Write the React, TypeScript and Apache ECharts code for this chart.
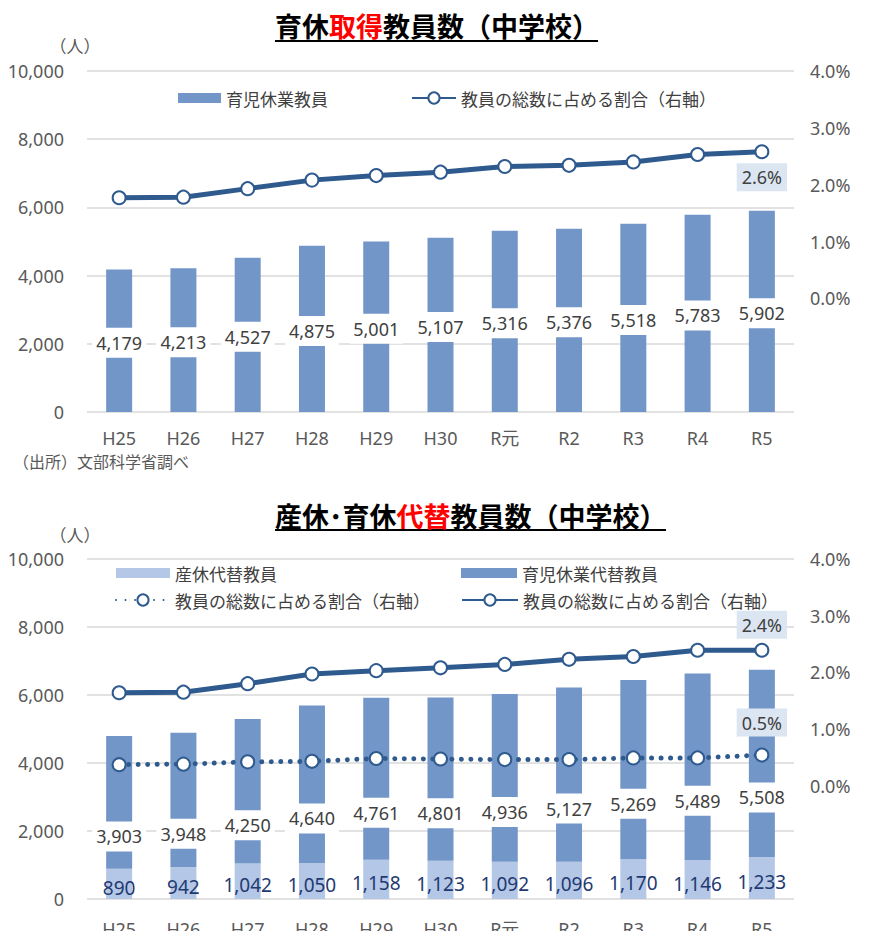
import React, { useEffect, useRef } from 'react';
import * as echarts from 'echarts';

// 年度
const years = ['H25', 'H26', 'H27', 'H28', 'H29', 'H30', 'R元', 'R2', 'R3', 'R4', 'R5'];

// 育休取得教員数（中学校）
const childcareLeave = [4179, 4213, 4527, 4875, 5001, 5107, 5316, 5376, 5518, 5783, 5902];
const childcareLeaveRate = [1.77, 1.78, 1.93, 2.08, 2.16, 2.22, 2.32, 2.34, 2.4, 2.53, 2.58];

// 産休・育休代替教員数（中学校）
const maternitySubs = [890, 942, 1042, 1050, 1158, 1123, 1092, 1096, 1170, 1146, 1233];
const childcareSubs = [3903, 3948, 4250, 4640, 4761, 4801, 4936, 5127, 5269, 5489, 5508];
const maternitySubsRate = [0.37, 0.38, 0.42, 0.43, 0.48, 0.47, 0.46, 0.46, 0.49, 0.49, 0.54];
const childcareSubsRate = [1.64, 1.65, 1.8, 1.97, 2.03, 2.08, 2.14, 2.23, 2.28, 2.39, 2.39];

// 軸目盛
const countAxis = { min: 0, max: 10000, interval: 2000 };
const rateAxis = { min: -2, max: 4, interval: 1 };

const BAR = '#7396C8';
const LIGHT = '#B4C7E7';
const LINE = '#2F5A8E';
const GRID = '#D9D9D9';
const AXIS_TEXT = '#595959';
const LABEL_TEXT = '#404040';
const NAVY = '#1F3A70';
const PCT_BG = '#DCE6F2';

const NUM_FONT = '"Noto Sans", "Noto Sans CJK JP", sans-serif';
const JP_FONT = '"Noto Sans CJK JP", "Noto Sans", sans-serif';

const RATE_LABEL_ALL = '教員の総数に占める割合（右軸）';

const fmtCount = (v: number) => Number(v).toLocaleString('en-US');
const fmtRate = (v: number) => Number(v).toFixed(1) + '%';

// 最終年度だけ割合を表示する
function rateData(values: number[], position: 'top' | 'bottom', distance: number) {
  const last = values.length - 1;
  return values.map((v, i) =>
    i === last
      ? {
          value: v,
          label: {
            show: true,
            position,
            distance,
            formatter: (p: any) => fmtRate(p.value),
            backgroundColor: PCT_BG,
            padding: [4, 5],
            color: LABEL_TEXT,
            fontSize: 18,
            lineHeight: 20,
            fontFamily: NUM_FONT,
          },
        }
      : v
  );
}

function countAxes(gridIndex: number) {
  return [
    {
      type: 'value',
      gridIndex,
      ...countAxis,
      axisLine: { show: false },
      axisTick: { show: false },
      splitLine: { lineStyle: { color: GRID, width: 1.5 } },
      axisLabel: {
        color: AXIS_TEXT,
        fontSize: 18,
        fontFamily: NUM_FONT,
        margin: 23,
        formatter: (v: number) => fmtCount(v),
      },
    },
    {
      type: 'value',
      gridIndex,
      position: 'right',
      ...rateAxis,
      axisLine: { show: false },
      axisTick: { show: false },
      splitLine: { show: false },
      axisLabel: {
        color: AXIS_TEXT,
        fontSize: 18,
        fontFamily: NUM_FONT,
        margin: 16,
        formatter: (v: number) => (v < 0 ? '' : fmtRate(v)),
      },
    },
  ];
}

function categoryAxis(gridIndex: number, margin: number) {
  return {
    type: 'category',
    gridIndex,
    data: years,
    axisLine: { show: false },
    axisTick: { show: false },
    axisLabel: { color: AXIS_TEXT, fontSize: 18, fontFamily: NUM_FONT, margin },
  };
}

const lineBase = {
  type: 'line',
  symbol: 'circle',
  symbolSize: 13,
  itemStyle: { color: '#fff', borderColor: LINE, borderWidth: 2 },
  z: 4,
};

const whiteBoxLabel = {
  show: true,
  position: 'inside',
  color: LABEL_TEXT,
  fontSize: 18,
  lineHeight: 20,
  fontFamily: NUM_FONT,
  backgroundColor: '#fff',
  padding: [5, 4],
  formatter: (p: any) => fmtCount(p.value),
};

function legendItem(name: string, left: number, top: number, w: number, h: number, icon?: string) {
  return {
    data: [name],
    left,
    top,
    padding: 0,
    itemWidth: w,
    itemHeight: h,
    icon,
    selectedMode: false,
    formatter: (n: string) => (n === '産休代替割合' || n === '育休代替割合' ? RATE_LABEL_ALL : n),
    textStyle: { color: LABEL_TEXT, fontSize: 17, lineHeight: 20, fontFamily: JP_FONT },
  };
}

function buildOption() {
  const titleRich = {
    a: { fontSize: 27, fontWeight: 'bold', color: '#000', fontFamily: JP_FONT, lineHeight: 30 },
    r: { fontSize: 27, fontWeight: 'bold', color: '#FF0000', fontFamily: JP_FONT, lineHeight: 30 },
  };
  const smallText = (text: string, x: number, y: number, size: number, align: string) => ({
    type: 'text',
    x,
    y,
    style: {
      text,
      fill: AXIS_TEXT,
      font: `${size}px ${JP_FONT}`,
      align,
      verticalAlign: 'middle',
    },
  });

  return {
    animation: false,
    backgroundColor: '#fff',
    title: [
      { text: '{a|育休}{r|取得}{a|教員数（中学校）}', left: 275, top: 10, padding: 0, textStyle: { rich: titleRich } },
      { text: '{a|産休･育休}{r|代替}{a|教員数（中学校）}', left: 275, top: 500, padding: 0, textStyle: { rich: titleRich } },
    ],
    graphic: [
      { type: 'line', shape: { x1: 275, y1: 41, x2: 598, y2: 41 }, style: { stroke: '#000', lineWidth: 2 } },
      { type: 'line', shape: { x1: 275, y1: 530, x2: 666, y2: 530 }, style: { stroke: '#000', lineWidth: 2 } },
      smallText('（人）', 75, 45, 17, 'center'),
      smallText('（人）', 75, 534, 17, 'center'),
      smallText('（出所）文部科学省調べ', 13, 461, 16, 'left'),
    ],
    legend: [
      legendItem('育児休業教員', 178, 88, 43, 10, 'rect'),
      legendItem(RATE_LABEL_ALL, 411, 88, 44, 14),
      legendItem('産休代替教員', 116, 563, 54, 10, 'rect'),
      legendItem('育児休業代替教員', 461, 563, 56, 10, 'rect'),
      legendItem('産休代替割合', 115, 590, 54, 14),
      legendItem('育休代替割合', 461, 590, 56, 14),
    ],
    grid: [
      { left: 87, top: 71, width: 707, height: 341, outerBoundsMode: 'none', containLabel: false },
      { left: 87, top: 559, width: 707, height: 340, outerBoundsMode: 'none', containLabel: false },
    ],
    xAxis: [categoryAxis(0, 17), categoryAxis(1, 21)],
    yAxis: [...countAxes(0), ...countAxes(1)],
    series: [
      {
        type: 'bar',
        name: '育児休業教員',
        xAxisIndex: 0,
        yAxisIndex: 0,
        data: childcareLeave,
        barWidth: 26,
        itemStyle: { color: BAR },
        label: { ...whiteBoxLabel, offset: [0, 2] },
        z: 2,
      },
      {
        ...lineBase,
        name: RATE_LABEL_ALL,
        xAxisIndex: 0,
        yAxisIndex: 1,
        data: rateData(childcareLeaveRate, 'bottom', 4),
        lineStyle: { color: LINE, width: 5 },
      },
      {
        type: 'bar',
        name: '産休代替教員',
        xAxisIndex: 1,
        yAxisIndex: 2,
        stack: 'subs',
        data: maternitySubs,
        barWidth: 26,
        itemStyle: { color: LIGHT },
        label: {
          show: true,
          position: 'inside',
          color: NAVY,
          fontSize: 19,
          fontFamily: NUM_FONT,
          offset: [0, 4],
          formatter: (p: any) => fmtCount(p.value),
        },
        z: 2,
      },
      {
        type: 'bar',
        name: '育児休業代替教員',
        xAxisIndex: 1,
        yAxisIndex: 2,
        stack: 'subs',
        data: childcareSubs,
        barWidth: 26,
        itemStyle: { color: BAR },
        label: { ...whiteBoxLabel, offset: [0, 34] },
        z: 2,
      },
      {
        ...lineBase,
        name: '産休代替割合',
        xAxisIndex: 1,
        yAxisIndex: 3,
        data: rateData(maternitySubsRate, 'top', 11),
        lineStyle: { color: LINE, width: 5, type: [0.01, 9.5], cap: 'round' },
      },
      {
        ...lineBase,
        name: '育休代替割合',
        xAxisIndex: 1,
        yAxisIndex: 3,
        data: rateData(childcareSubsRate, 'top', 4),
        lineStyle: { color: LINE, width: 5 },
      },
    ],
  };
}

export default function App() {
  const ref = useRef<HTMLDivElement>(null);

  useEffect(() => {
    if (!ref.current) return;
    const chart = echarts.init(ref.current, undefined, { renderer: 'svg' });
    chart.setOption(buildOption() as any);
    return () => chart.dispose();
  }, []);

  return (
    <div
      ref={ref}
      style={{ position: 'absolute', left: 0, top: 0, width: 870, height: 931, background: '#fff' }}
    />
  );
}
